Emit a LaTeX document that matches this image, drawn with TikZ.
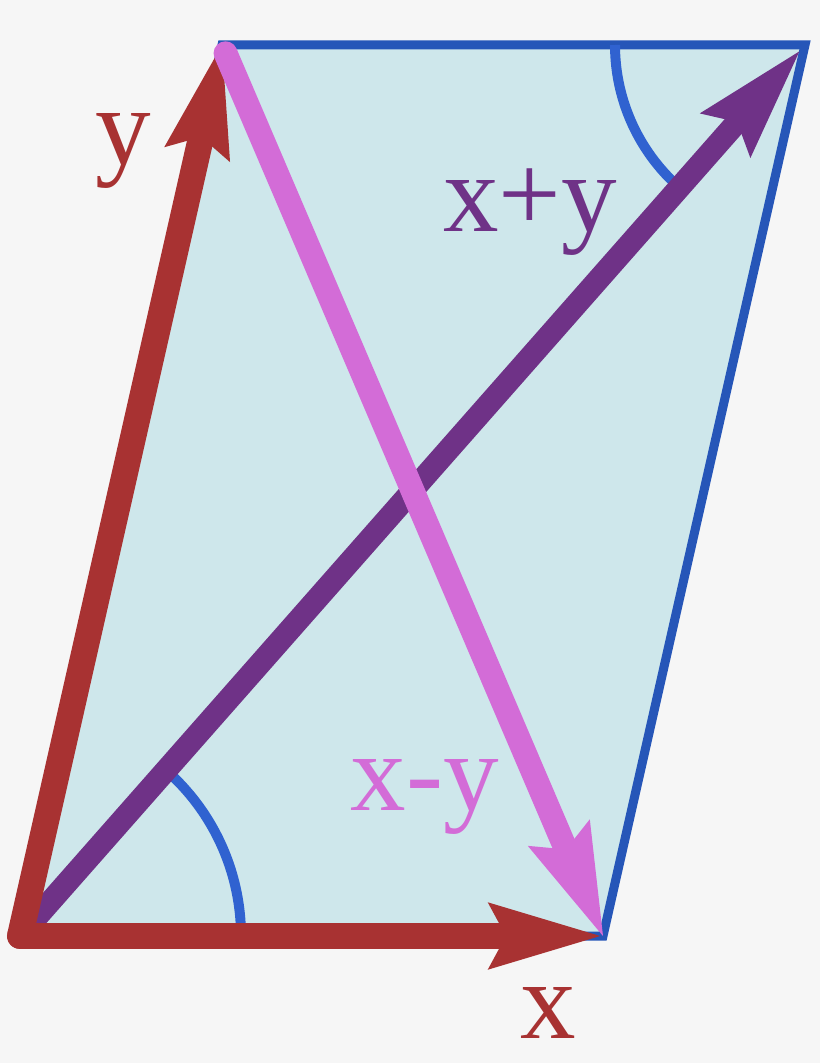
\documentclass[tikz,border=0pt]{standalone}
\usepackage{fontspec}
\setmainfont{Liberation Serif}
\usetikzlibrary{arrows.meta}
\definecolor{bggray}{RGB}{246,246,246}
\definecolor{areacyan}{RGB}{206,231,235}
\definecolor{edgeblue}{RGB}{38,86,184}
\definecolor{angleblue}{RGB}{48,98,208}
\definecolor{vecred}{RGB}{168,50,50}
\definecolor{vecpurple}{RGB}{111,50,135}
\definecolor{vecpink}{RGB}{211,108,215}
\begin{document}
\begin{tikzpicture}[x=0.025cm, y=-0.025cm, line cap=round,
  vec/.style={-{Stealth[length=80pt, width=48pt, inset=13pt, line width=0pt]}},
  lbl/.style={anchor=base, inner sep=0pt, font=\fontsize{79}{79}\selectfont}]
  \fill[bggray] (0,0) rectangle (820,1063);
  \useasboundingbox (0,0) rectangle (820,1063);

  \coordinate (o) at (20,936);
  \coordinate (x) at (603,936);
  \coordinate (y) at (222,45);
  \coordinate (s) at (805,45);

  \filldraw[fill=areacyan, draw=edgeblue, line width=6.4pt, line join=miter, line cap=butt]
  (o) -- (x) -- (s) -- (y) -- cycle;

  % angles between x and x+y
  \draw[angleblue, line width=7.1pt, line cap=butt] (o) ++(221,0) arc[start angle=0, end angle=-50, radius=221];
  \draw[angleblue, line width=7.1pt, line cap=butt] (s) ++(-190,0) arc[start angle=180, end angle=130, radius=190];

  \draw[vec, vecpurple, line width=16pt, shorten >=6pt] (o) -- (s);
  \draw[vec, vecred, line width=18.5pt, shorten >=2pt] (o) -- (x);
  \draw[vec, vecred, line width=18.5pt] (o) -- (y);
  \draw[vec, vecpink, line width=17pt, shorten <=6.4pt] (y) -- (x);

  \node[lbl, vecred] (ylabel) at (123,165) {y};
  \node[lbl, vecpurple] (sumlabel) at (530,232) {x+y};
  \node[lbl, vecpink] (difflabel) at (425,810) {x-y};
  \node[lbl, vecred] (xlabel) at (548,1038) {x};
\end{tikzpicture}
\end{document}
